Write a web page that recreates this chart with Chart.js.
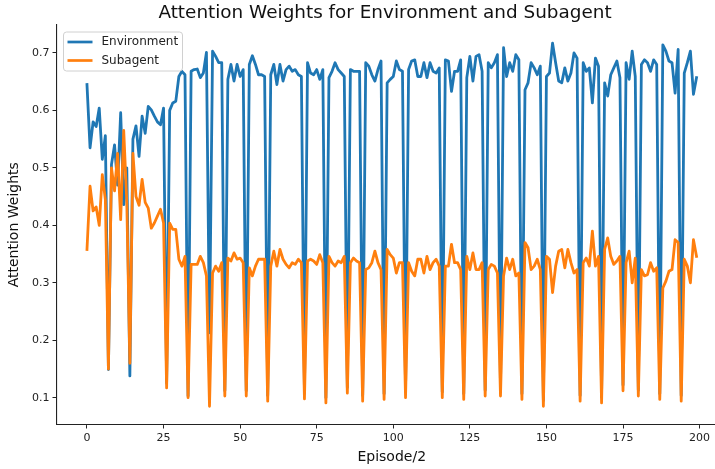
<!DOCTYPE html>
<html>
<head>
<meta charset="utf-8">
<script src="https://cdn.jsdelivr.net/npm/chart.js@4.4.1/dist/chart.umd.min.js"></script>
<style>
  html, body { margin: 0; padding: 0; background: #fff; overflow: hidden; }
  #wrap { width: 745px; height: 469px; }
</style>
</head>
<body>
<div id="wrap"><canvas id="chart" width="745" height="469"></canvas></div>
<script>
// attention weight per logged step (one point every two episodes)
const environment = [
  0.645, 0.535, 0.580, 0.572, 0.604, 0.515, 0.556, 0.149, 0.506, 0.540,
  0.470, 0.596, 0.436, 0.500, 0.138, 0.550, 0.573, 0.520, 0.590, 0.560,
  0.607, 0.601, 0.590, 0.580, 0.575, 0.604, 0.125, 0.600, 0.613, 0.616,
  0.659, 0.668, 0.662, 0.103, 0.668, 0.671, 0.672, 0.657, 0.665, 0.701,
  0.213, 0.703, 0.694, 0.683, 0.683, 0.112, 0.654, 0.680, 0.651, 0.680,
  0.659, 0.671, 0.112, 0.680, 0.695, 0.680, 0.662, 0.662, 0.659, 0.104,
  0.662, 0.680, 0.645, 0.680, 0.651, 0.671, 0.677, 0.668, 0.671, 0.662,
  0.659, 0.108, 0.683, 0.665, 0.662, 0.671, 0.654, 0.671, 0.100, 0.657,
  0.668, 0.683, 0.671, 0.665, 0.659, 0.118, 0.671, 0.668, 0.668, 0.668,
  0.104, 0.683, 0.677, 0.662, 0.651, 0.671, 0.686, 0.107, 0.648, 0.654,
  0.659, 0.686, 0.671, 0.668, 0.110, 0.671, 0.686, 0.688, 0.659, 0.659,
  0.683, 0.657, 0.683, 0.668, 0.665, 0.674, 0.110, 0.688, 0.686, 0.633,
  0.668, 0.668, 0.688, 0.107, 0.657, 0.694, 0.651, 0.694, 0.697, 0.668,
  0.113, 0.683, 0.674, 0.683, 0.697, 0.113, 0.709, 0.659, 0.683, 0.668,
  0.697, 0.688, 0.107, 0.636, 0.648, 0.683, 0.674, 0.662, 0.677, 0.095,
  0.659, 0.665, 0.717, 0.683, 0.651, 0.648, 0.674, 0.651, 0.665, 0.700,
  0.691, 0.104, 0.683, 0.668, 0.674, 0.613, 0.691, 0.677, 0.101, 0.648,
  0.625, 0.662, 0.674, 0.686, 0.657, 0.122, 0.683, 0.654, 0.703, 0.659,
  0.113, 0.680, 0.688, 0.683, 0.668, 0.688, 0.680, 0.107, 0.714, 0.703,
  0.686, 0.683, 0.630, 0.706, 0.104, 0.665, 0.683, 0.703, 0.628, 0.657
];
const subagent = [
  0.358, 0.468, 0.425, 0.432, 0.400, 0.488, 0.445, 0.150, 0.500, 0.460,
  0.525, 0.410, 0.565, 0.440, 0.160, 0.525, 0.450, 0.435, 0.480, 0.440,
  0.430, 0.395, 0.404, 0.416, 0.428, 0.404, 0.117, 0.404, 0.393, 0.393,
  0.341, 0.329, 0.346, 0.100, 0.332, 0.332, 0.332, 0.346, 0.335, 0.312,
  0.085, 0.317, 0.329, 0.320, 0.335, 0.103, 0.343, 0.338, 0.352, 0.341,
  0.343, 0.335, 0.103, 0.326, 0.312, 0.329, 0.341, 0.341, 0.341, 0.094,
  0.329, 0.355, 0.329, 0.358, 0.341, 0.332, 0.326, 0.335, 0.332, 0.341,
  0.335, 0.098, 0.338, 0.341, 0.338, 0.332, 0.349, 0.335, 0.091, 0.346,
  0.335, 0.329, 0.338, 0.335, 0.346, 0.108, 0.335, 0.343, 0.338, 0.335,
  0.094, 0.323, 0.326, 0.335, 0.355, 0.335, 0.323, 0.097, 0.358, 0.349,
  0.343, 0.317, 0.335, 0.335, 0.100, 0.335, 0.320, 0.312, 0.341, 0.341,
  0.317, 0.346, 0.323, 0.335, 0.341, 0.329, 0.100, 0.329, 0.329, 0.367,
  0.335, 0.335, 0.323, 0.097, 0.346, 0.323, 0.352, 0.323, 0.323, 0.335,
  0.103, 0.323, 0.332, 0.329, 0.317, 0.103, 0.312, 0.343, 0.323, 0.341,
  0.312, 0.317, 0.097, 0.370, 0.361, 0.323, 0.329, 0.341, 0.323, 0.085,
  0.346, 0.341, 0.283, 0.329, 0.355, 0.358, 0.326, 0.358, 0.335, 0.317,
  0.323, 0.094, 0.335, 0.343, 0.329, 0.390, 0.329, 0.346, 0.091, 0.358,
  0.378, 0.346, 0.332, 0.338, 0.346, 0.112, 0.335, 0.355, 0.300, 0.343,
  0.103, 0.323, 0.312, 0.314, 0.335, 0.320, 0.326, 0.097, 0.291, 0.303,
  0.320, 0.323, 0.375, 0.370, 0.094, 0.341, 0.329, 0.300, 0.375, 0.346
];
const xTicks = [0, 25, 50, 75, 100, 125, 150, 175, 200];
const yTicks = [0.1, 0.2, 0.3, 0.4, 0.5, 0.6, 0.7];
const seriesNames = ['Environment', 'Subagent'];
const seriesColors = ['#1f77b4', '#ff7f0e'];
const chartTitle = 'Attention Weights for Environment and Subagent';

const FONT = 'DejaVu Sans';
const toPoints = arr => arr.map((v, i) => ({ x: i, y: v }));

// title above the plot area, legend inside it (upper left)
const decorations = {
  id: 'decorations',
  afterDraw(chart) {
    const { ctx, chartArea } = chart;
    ctx.save();
    ctx.font = `18.4px "${FONT}"`;
    ctx.fillStyle = '#111';
    ctx.textAlign = 'center';
    ctx.textBaseline = 'middle';
    ctx.fillText(chartTitle, 385, 13);

    const x = chartArea.left + 7, y = chartArea.top + 7;
    const w = 119, h = 39;
    ctx.beginPath();
    ctx.roundRect(x, y, w, h, 3);
    ctx.fillStyle = 'rgba(255,255,255,0.8)';
    ctx.fill();
    ctx.strokeStyle = '#d0d0d0';
    ctx.lineWidth = 1;
    ctx.stroke();
    ctx.font = `12px "${FONT}"`;
    ctx.textAlign = 'left';
    seriesNames.forEach((name, i) => {
      const ly = y + 10 + i * 18.5;
      ctx.beginPath();
      ctx.moveTo(x + 4, ly);
      ctx.lineTo(x + 29, ly);
      ctx.strokeStyle = seriesColors[i];
      ctx.lineWidth = 2.7;
      ctx.stroke();
      ctx.fillStyle = '#222';
      ctx.fillText(name, x + 38, ly);
    });
    ctx.restore();
  }
};

new Chart(document.getElementById('chart'), {
  type: 'line',
  data: {
    datasets: [
      {
        label: seriesNames[0],
        data: toPoints(environment),
        borderColor: seriesColors[0],
        order: 1
      },
      {
        label: seriesNames[1],
        data: toPoints(subagent),
        borderColor: seriesColors[1],
        order: 0
      }
    ]
  },
  options: {
    responsive: false,
    animation: false,
    devicePixelRatio: 1,
    layout: { padding: { left: 0, right: 18, top: 25, bottom: 0 } },
    elements: {
      point: { radius: 0 },
      line: { borderWidth: 2.8, tension: 0, borderJoinStyle: 'round', borderCapStyle: 'square' }
    },
    plugins: {
      legend: { display: false },
      tooltip: { enabled: false },
      title: { display: false }
    },
    scales: {
      x: {
        type: 'linear',
        min: -9.95,
        max: 208.95,
        afterBuildTicks: s => { s.ticks = xTicks.map(v => ({ value: v })); },
        afterFit: s => { s.height = 44.5; },
        grid: { drawOnChartArea: false, drawTicks: true, tickLength: 4, color: '#222' },
        border: { display: true, color: '#222', width: 1.1 },
        ticks: { color: '#222', font: { family: FONT, size: 11 }, padding: 3, maxRotation: 0 },
        title: {
          display: true, text: 'Episode/2', color: '#111',
          font: { family: FONT, size: 14 }, padding: { top: 0, bottom: 3 }
        }
      },
      y: {
        type: 'linear',
        min: 0.0534,
        max: 0.7486,
        afterBuildTicks: s => { s.ticks = yTicks.map(v => ({ value: v })); },
        afterFit: s => { s.width = 56.5; },
        grid: { drawOnChartArea: false, drawTicks: true, tickLength: 4, color: '#222' },
        border: { display: true, color: '#222', width: 1.1 },
        ticks: {
          color: '#222', font: { family: FONT, size: 11 }, padding: 3,
          callback: v => v.toFixed(1)
        },
        title: {
          display: true, text: 'Attention Weights', color: '#111',
          font: { family: FONT, size: 14 }, padding: { top: 6, bottom: 0 }
        }
      }
    }
  },
  plugins: [decorations]
});
</script>
</body>
</html>
